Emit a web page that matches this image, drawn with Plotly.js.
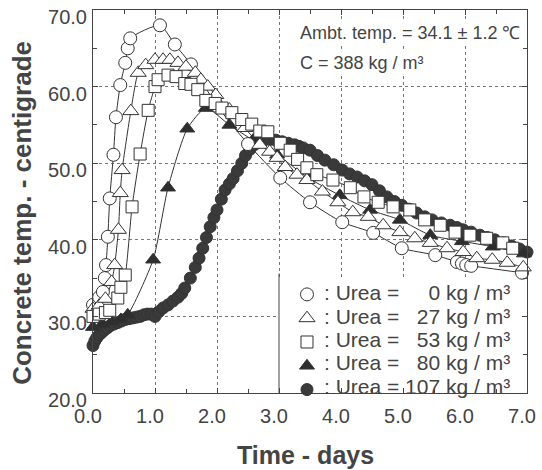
<!DOCTYPE html>
<html>
<head>
<meta charset="utf-8">
<script src="https://cdn.plot.ly/plotly-3.0.1.min.js"></script>
<style>
  html, body { margin: 0; padding: 0; background: #fff; }
  #chart { width: 542px; height: 470px; }
</style>
</head>
<body>
<div id="chart"></div>
<script>
// Concrete temperature rise over time for mixes with different urea dosages
const days0 = [0.0, 0.1, 0.16, 0.19, 0.21, 0.24, 0.27, 0.33, 0.37, 0.44, 0.52, 0.56, 0.6, 1.08, 1.32, 1.58, 2.0, 2.5, 3.02, 3.5, 4.02, 4.52, 4.98, 5.52, 5.87, 5.95, 6.02, 6.1, 6.92];
const temp0 = [31.5, 32.5, 33.2, 35.0, 36.7, 40.4, 45.4, 51.1, 56.0, 60.2, 63.1, 65.0, 66.3, 68.0, 65.5, 62.9, 57.5, 52.5, 48.1, 44.9, 42.3, 40.9, 38.9, 38.0, 37.1, 36.9, 36.7, 36.6, 35.7];

const days27 = [0.0, 0.1, 0.2, 0.3, 0.35, 0.41, 0.44, 0.47, 0.61, 0.73, 0.85, 1.0, 1.13, 1.24, 1.37, 1.5, 1.65, 1.74, 1.85, 1.98, 2.2, 2.45, 2.69, 2.85, 2.97, 3.1, 3.29, 3.45, 3.7, 3.95, 4.19, 4.44, 4.68, 4.95, 5.19, 5.44, 5.71, 5.97, 6.19, 6.44, 6.68, 6.94];
const temp27 = [31.0, 31.4, 32.3, 34.5, 36.7, 41.3, 46.1, 49.1, 56.8, 61.8, 62.8, 63.5, 63.5, 63.5, 63.1, 62.6, 61.8, 60.9, 60.0, 58.9, 57.0, 54.6, 52.4, 51.5, 50.7, 49.5, 48.5, 47.8, 46.3, 44.9, 43.6, 43.0, 41.9, 41.0, 40.2, 39.6, 38.9, 38.4, 37.6, 37.4, 37.0, 36.4];

const days53 = [0.0, 0.1, 0.2, 0.27, 0.4, 0.45, 0.52, 0.63, 0.76, 0.89, 1.0, 1.05, 1.21, 1.34, 1.48, 1.58, 1.69, 1.82, 1.97, 2.08, 2.24, 2.4, 2.56, 2.69, 2.82, 3.02, 3.18, 3.3, 3.45, 3.61, 3.87, 4.15, 4.37, 4.6, 4.84, 5.11, 5.35, 5.6, 5.84, 6.08, 6.35, 6.61, 6.77];
const temp53 = [30.0, 30.3, 30.5, 30.8, 32.4, 33.8, 35.4, 44.3, 51.2, 56.9, 60.0, 60.9, 61.5, 61.3, 60.4, 60.3, 59.6, 58.2, 57.8, 57.2, 56.6, 55.7, 55.1, 54.2, 54.1, 52.6, 51.7, 50.5, 49.4, 48.5, 47.8, 46.8, 45.6, 44.9, 44.3, 43.9, 42.6, 41.9, 41.0, 40.6, 40.2, 39.6, 38.9];

const days80 = [0.0, 0.15, 0.3, 0.45, 0.56, 0.97, 1.21, 1.52, 1.82, 2.2, 2.58, 2.97, 3.47, 3.98, 4.47, 4.95, 5.44, 5.95, 6.45, 6.95];
const temp80 = [28.6, 29.0, 29.3, 29.6, 30.2, 37.4, 46.8, 54.5, 57.2, 55.0, 53.0, 51.1, 48.1, 45.8, 43.9, 42.6, 40.6, 39.8, 39.1, 38.2];

const days107 = [0.0, 0.03, 0.06, 0.1, 0.14, 0.18, 0.23, 0.28, 0.34, 0.4, 0.46, 0.52, 0.58, 0.64, 0.7, 0.76, 0.82, 0.88, 0.94, 1.0, 1.06, 1.13, 1.21, 1.29, 1.37, 1.43, 1.48, 1.57, 1.65, 1.71, 1.77, 1.83, 1.89, 1.95, 2.0, 2.07, 2.13, 2.2, 2.26, 2.33, 2.4, 2.46, 2.53, 2.6, 2.66, 2.75, 2.85, 2.95, 3.05, 3.15, 3.25, 3.32, 3.39, 3.5, 3.62, 3.74, 3.88, 4.02, 4.14, 4.26, 4.38, 4.5, 4.62, 4.74, 4.86, 4.98, 5.1, 5.22, 5.35, 5.47, 5.62, 5.76, 5.87, 5.97, 6.1, 6.24, 6.36, 6.48, 6.62, 6.75, 6.88, 7.0];
const temp107 = [26.2, 26.8, 27.2, 27.6, 27.9, 28.2, 28.5, 28.8, 29.0, 29.2, 29.4, 29.6, 29.7, 29.8, 29.9, 30.0, 30.2, 30.3, 30.3, 30.0, 30.6, 31.1, 31.5, 32.0, 32.5, 33.0, 33.7, 35.0, 36.4, 37.6, 38.9, 40.3, 41.7, 42.9, 43.9, 45.3, 46.5, 47.3, 48.0, 49.0, 50.0, 51.0, 51.8, 52.4, 52.8, 53.0, 53.1, 53.0, 52.8, 52.6, 52.4, 52.2, 52.0, 51.7, 51.0, 50.4, 49.8, 49.1, 48.6, 48.2, 47.7, 47.2, 46.4, 45.6, 45.0, 44.5, 44.0, 43.5, 43.0, 42.6, 42.2, 41.9, 41.6, 41.3, 41.0, 40.6, 40.3, 40.0, 39.6, 39.2, 38.8, 38.4];

// Key labels, one per dosage (legend order)
const ureaLabels = [
  ': Urea =\u00a0\u00a0\u00a0\u00a0\u00a00 kg / m\u00b3',
  ': Urea =\u00a0\u00a0\u00a027 kg / m\u00b3',
  ': Urea =\u00a0\u00a0\u00a053 kg / m\u00b3',
  ': Urea =\u00a0\u00a0\u00a080 kg / m\u00b3',
  ': Urea = 107 kg / m\u00b3'
];

const xTicks = [0, 1, 2, 3, 4, 5, 6, 7];
const yTicks = [20, 30, 40, 50, 60, 70];

const ink = '#333';
const textInk = '#444';
const fontFam = 'Liberation Sans, Arial, Helvetica, sans-serif';

// Each dosage: smooth connecting curve, plus its symbols on top
const specs = [
  { x: days107, y: temp107, rank: 5, symbol: 'circle', fill: '#3a3a3a', size: 12 },
  { x: days80, y: temp80, rank: 4, symbol: 'triangle-up', fill: '#2e2e2e', size: 13 },
  { x: days0, y: temp0, rank: 1, symbol: 'circle', fill: '#fff', size: 13 },
  { x: days27, y: temp27, rank: 2, symbol: 'triangle-up', fill: '#fff', size: 14 },
  { x: days53, y: temp53, rank: 3, symbol: 'square', fill: '#fff', size: 12 }
];

const curveTraces = specs.map(s => ({
  x: s.x, y: s.y, type: 'scatter', mode: 'lines', showlegend: false,
  cliponaxis: false,
  line: { color: ink, width: 1, shape: 'spline', smoothing: 0.6 }
}));

const markerTraces = specs.map(s => ({
  x: s.x, y: s.y, type: 'scatter', mode: 'markers', name: '\u00a0',
  legendrank: s.rank, cliponaxis: false,
  marker: { symbol: s.symbol, size: s.size, color: s.fill, line: { color: ink, width: 1 } }
}));

const axisCommon = {
  showline: true, linecolor: '#444', linewidth: 1, mirror: 'ticks',
  ticks: 'inside', ticklen: 5, tickcolor: '#444',
  showgrid: true, gridcolor: '#777', griddash: 'dot', gridwidth: 1,
  zeroline: false, tickformat: '.1f',
  tickfont: { family: fontFam, size: 20, color: textInk }
};

// Key text rows, placed beside the legend symbols
const keyTop = 0.262, keyStep = 0.0612;
const keyText = ureaLabels.map((t, i) => ({
  xref: 'paper', yref: 'paper', x: 0.528, y: keyTop - i * keyStep,
  xanchor: 'left', yanchor: 'middle', text: t, showarrow: false,
  font: { family: fontFam, size: 21, color: textInk }
}));

const layout = {
  width: 542, height: 470,
  margin: { l: 93, r: 15, t: 10, b: 77 },
  paper_bgcolor: '#fff', plot_bgcolor: '#fff',
  font: { family: fontFam, color: textInk },
  showlegend: true,
  xaxis: Object.assign({}, axisCommon, {
    range: [0, 7], tickvals: xTicks, ticklabelshift: -5, ticklabelstandoff: 5,
    minor: { tickvals: [0.5, 1.5, 2.5, 3.5, 4.5, 5.5, 6.5], ticks: 'inside', ticklen: 4, tickcolor: '#444', showgrid: false }
  }),
  yaxis: Object.assign({}, axisCommon, {
    range: [20, 70], tickvals: yTicks, ticklabelshift: 7, ticklabelstandoff: 1,
    minor: { tickvals: [25, 35, 45, 55, 65], ticks: 'inside', ticklen: 4, tickcolor: '#444', showgrid: false }
  }),
  legend: {
    x: 0.447, y: 0.3016, xanchor: 'left', yanchor: 'top',
    bgcolor: 'rgba(0,0,0,0)', borderwidth: 0,
    font: { family: fontFam, size: 16, color: textInk },
    traceorder: 'normal'
  },
  shapes: [
    { type: 'rect', xref: 'x', yref: 'y', x0: 3.0, x1: 7.0, y0: 20, y1: 34.9,
      fillcolor: '#fff', line: { width: 0 }, layer: 'between' },
    { type: 'line', xref: 'x', yref: 'y', x0: 3.0, x1: 3.0, y0: 20, y1: 35.6,
      line: { color: '#444', width: 1 } }
  ],
  annotations: [
    { xref: 'paper', yref: 'paper', x: 0.472, y: 0.94, xanchor: 'left', yanchor: 'middle',
      text: 'Ambt. temp. = 34.1 \u00b1 1.2 \u2103', showarrow: false, bgcolor: '#fff',
      font: { family: fontFam, size: 18, color: textInk } },
    { xref: 'paper', yref: 'paper', x: 0.472, y: 0.862, xanchor: 'left', yanchor: 'middle',
      text: 'C = 388 kg / m\u00b3', showarrow: false, bgcolor: '#fff',
      font: { family: fontFam, size: 18, color: textInk } },
    { xref: 'paper', yref: 'paper', x: -0.164, y: 0.47, xanchor: 'center', yanchor: 'middle',
      textangle: -90, text: '<b>Concrete temp. - centigrade</b>', showarrow: false,
      font: { family: fontFam, size: 26, color: textInk } },
    { xref: 'paper', yref: 'paper', x: 0.49, y: -0.162, xanchor: 'center', yanchor: 'middle',
      text: '<b>Time - days</b>', showarrow: false,
      font: { family: fontFam, size: 25, color: textInk } }
  ].concat(keyText)
};

Plotly.newPlot('chart', curveTraces.concat(markerTraces), layout, { displayModeBar: false, staticPlot: true });
</script>
</body>
</html>
